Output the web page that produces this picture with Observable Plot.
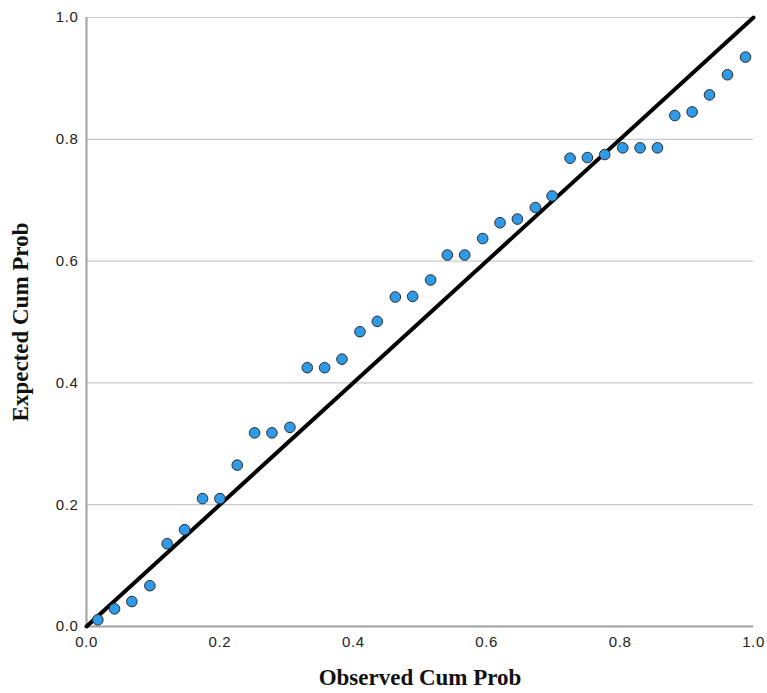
<!DOCTYPE html>
<html>
<head>
<meta charset="utf-8">
<script src="https://cdn.jsdelivr.net/npm/d3@7"></script>
<script src="https://cdn.jsdelivr.net/npm/@observablehq/plot@0.6"></script>
<style>
  html, body { margin: 0; padding: 0; background: #fff; }
  #chart svg { display: block; }
  #chart g[aria-label="x-axis tick label"] text,
  #chart g[aria-label="y-axis tick label"] text { letter-spacing: 0.6px; }
</style>
</head>
<body>
<div id="chart"></div>
<script>
// Observed cumulative probability (x) and expected cumulative probability (y)
const observed = [0.017, 0.042, 0.068, 0.095, 0.121, 0.147, 0.174, 0.200, 0.226, 0.252,
  0.278, 0.305, 0.331, 0.357, 0.383, 0.410, 0.436, 0.463, 0.489, 0.516,
  0.541, 0.567, 0.594, 0.620, 0.646, 0.673, 0.698, 0.725, 0.751, 0.777,
  0.804, 0.830, 0.856, 0.882, 0.908, 0.934, 0.961, 0.988];
const expected = [0.011, 0.029, 0.041, 0.067, 0.136, 0.159, 0.210, 0.210, 0.265, 0.318,
  0.318, 0.327, 0.425, 0.425, 0.439, 0.484, 0.501, 0.541, 0.542, 0.569,
  0.610, 0.610, 0.637, 0.663, 0.669, 0.688, 0.707, 0.769, 0.770, 0.775,
  0.786, 0.786, 0.786, 0.839, 0.845, 0.873, 0.906, 0.935];
const refX = [0, 1];
const refY = [0, 1];
const ticks = [0, 0.2, 0.4, 0.6, 0.8, 1.0];
const xTitle = "Observed Cum Prob";
const yTitle = "Expected Cum Prob";

const points = observed.map((x, i) => ({x, y: expected[i]}));
const ref = refX.map((x, i) => ({x, y: refY[i]}));

const chart = Plot.plot({
  width: 767,
  height: 693,
  marginLeft: 86,
  marginRight: 14,
  marginTop: 17,
  marginBottom: 67,
  style: {fontFamily: "Arial, 'Liberation Sans', sans-serif", fontSize: "15px", color: "#222", background: "#fff"},
  x: {domain: [0, 1]},
  y: {domain: [0, 1]},
  marks: [
    Plot.gridY(ticks.slice(1), {stroke: "#c8c8c8", strokeOpacity: 1, strokeWidth: 1.2}),
    Plot.axisX(ticks, {tickSize: 0, tickPadding: 10, tickFormat: d3.format(".1f"), label: null, fontSize: 15}),
    Plot.axisY(ticks, {tickSize: 0, tickPadding: 8, tickFormat: d3.format(".1f"), label: null, fontSize: 15}),
    Plot.ruleX([0], {stroke: "#a0a0a0", strokeWidth: 2}),
    Plot.ruleY([0], {stroke: "#a0a0a0", strokeWidth: 2}),
    Plot.line(ref, {x: "x", y: "y", stroke: "#000", strokeWidth: 4}),
    Plot.dot(points, {x: "x", y: "y", r: 5.3, fill: "#2f9be8", stroke: "#2b2b2b", strokeWidth: 1}),
    Plot.text([xTitle], {frameAnchor: "bottom", dy: 58, textAnchor: "middle", fontFamily: "'Liberation Serif', 'Times New Roman', serif", fontWeight: "bold", fontSize: 23, fill: "#111"}),
    Plot.text([yTitle], {frameAnchor: "left", dx: -66, textAnchor: "middle", rotate: -90, fontFamily: "'Liberation Serif', 'Times New Roman', serif", fontWeight: "bold", fontSize: 23, fill: "#111"})
  ]
});
document.getElementById("chart").appendChild(chart);
</script>
</body>
</html>
